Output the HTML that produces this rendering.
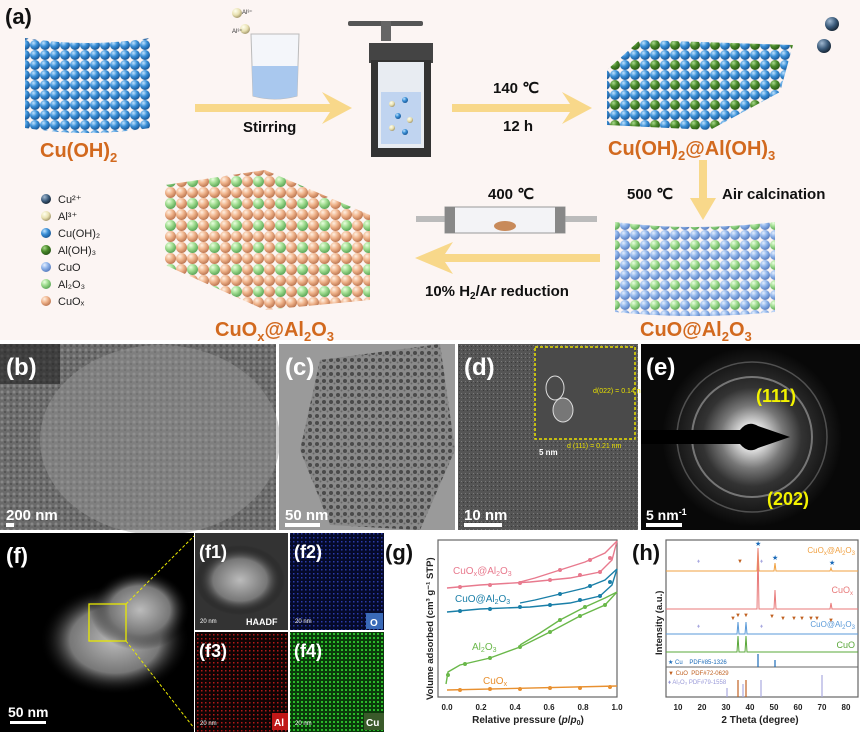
<!DOCTYPE html>
<html><head><meta charset="utf-8"><style>
body{margin:0;background:#fff}
svg{display:block;font-family:"Liberation Sans",sans-serif}
</style></head><body>
<svg width="860" height="732" viewBox="0 0 860 732" xmlns="http://www.w3.org/2000/svg">
<defs>
<radialGradient id="gB" cx="35%" cy="30%" r="70%"><stop offset="0" stop-color="#bfe3ff"/><stop offset=".5" stop-color="#3a8fd6"/><stop offset="1" stop-color="#1a5a9a"/></radialGradient>
<radialGradient id="gG" cx="35%" cy="30%" r="70%"><stop offset="0" stop-color="#a9d98a"/><stop offset=".5" stop-color="#4a8a2a"/><stop offset="1" stop-color="#2a5a18"/></radialGradient>
<radialGradient id="gLB" cx="35%" cy="30%" r="70%"><stop offset="0" stop-color="#e4efff"/><stop offset=".5" stop-color="#8fb4ea"/><stop offset="1" stop-color="#5a7fc0"/></radialGradient>
<radialGradient id="gLG" cx="35%" cy="30%" r="70%"><stop offset="0" stop-color="#eaffdf"/><stop offset=".5" stop-color="#9fdc8f"/><stop offset="1" stop-color="#5fa85a"/></radialGradient>
<radialGradient id="gO" cx="35%" cy="30%" r="70%"><stop offset="0" stop-color="#fff0e2"/><stop offset=".5" stop-color="#f0b48c"/><stop offset="1" stop-color="#c07a54"/></radialGradient>
<radialGradient id="gY" cx="35%" cy="30%" r="70%"><stop offset="0" stop-color="#fffff0"/><stop offset=".6" stop-color="#e8e0b0"/><stop offset="1" stop-color="#a89c70"/></radialGradient>
<radialGradient id="gD" cx="35%" cy="30%" r="70%"><stop offset="0" stop-color="#a0b8d0"/><stop offset=".6" stop-color="#3a5a7a"/><stop offset="1" stop-color="#1a2a3a"/></radialGradient>
<pattern id="pB" width="10" height="10" patternUnits="userSpaceOnUse"><circle cx="5" cy="5" r="5" fill="url(#gB)"/></pattern>
<pattern id="pBG" width="20" height="20" patternUnits="userSpaceOnUse"><circle cx="5" cy="5" r="5" fill="url(#gB)"/><circle cx="15" cy="5" r="5" fill="url(#gG)"/><circle cx="5" cy="15" r="5" fill="url(#gB)"/><circle cx="15" cy="15" r="5" fill="url(#gB)"/></pattern>
<pattern id="pLBG" width="20" height="20" patternUnits="userSpaceOnUse"><circle cx="5" cy="5" r="5" fill="url(#gLB)"/><circle cx="15" cy="5" r="5" fill="url(#gLG)"/><circle cx="5" cy="15" r="5" fill="url(#gLB)"/><circle cx="15" cy="15" r="5" fill="url(#gLB)"/></pattern>
<pattern id="pOG" width="22" height="22" patternUnits="userSpaceOnUse"><circle cx="5.5" cy="5.5" r="5.5" fill="url(#gO)"/><circle cx="16.5" cy="5.5" r="5.5" fill="url(#gLG)"/><circle cx="5.5" cy="16.5" r="5.5" fill="url(#gO)"/><circle cx="16.5" cy="16.5" r="5.5" fill="url(#gO)"/></pattern>
<pattern id="noise1" width="6" height="6" patternUnits="userSpaceOnUse"><rect width="6" height="6" fill="#6a6a6a"/><circle cx="2" cy="2" r="1.5" fill="#888"/><circle cx="5" cy="4" r="1" fill="#505050"/></pattern>
<pattern id="noise2" width="7" height="7" patternUnits="userSpaceOnUse"><rect width="7" height="7" fill="#8a8a8a"/><circle cx="2" cy="3" r="2" fill="#4a4a4a"/><circle cx="5.5" cy="5.5" r="1" fill="#666"/></pattern>
<pattern id="noise3" width="4" height="4" patternUnits="userSpaceOnUse"><rect width="4" height="4" fill="#555"/><rect x="1" y="1" width="1" height="1" fill="#7a7a7a"/><rect x="3" y="2" width="1" height="1" fill="#3a3a3a"/></pattern>
<pattern id="nBlue" width="4" height="4" patternUnits="userSpaceOnUse"><rect width="4" height="4" fill="#050a2a"/><rect x="1" y="1" width="1.5" height="1.5" fill="#2a3aa8"/></pattern>
<pattern id="nRed" width="4" height="4" patternUnits="userSpaceOnUse"><rect width="4" height="4" fill="#100404"/><rect x="1" y="2" width="1.5" height="1.5" fill="#b01818"/></pattern>
<pattern id="nGreen" width="4" height="4" patternUnits="userSpaceOnUse"><rect width="4" height="4" fill="#0a3a0a"/><rect x="1" y="1" width="2" height="2" fill="#2ab82a"/></pattern>
<radialGradient id="blob" cx="50%" cy="50%" r="50%"><stop offset="0" stop-color="#bbb"/><stop offset=".6" stop-color="#777"/><stop offset="1" stop-color="#000" stop-opacity="0"/></radialGradient>
<radialGradient id="saed" cx="50%" cy="50%" r="50%"><stop offset="0" stop-color="#fff"/><stop offset=".15" stop-color="#ddd"/><stop offset=".35" stop-color="#777"/><stop offset=".55" stop-color="#333"/><stop offset="1" stop-color="#080808"/></radialGradient>
</defs>

<!-- panel a background -->
<rect x="0" y="0" width="860" height="340" fill="#fcf5f3"/>
<text x="5" y="24" font-size="22" font-weight="bold" fill="#111">(a)</text>

<!-- Cu(OH)2 slab -->
<path d="M25,38 Q88,48 150,38 L150,128 Q88,138 25,128 Z" fill="url(#pB)"/>
<text x="40" y="157" font-size="20" font-weight="bold" fill="#d2691e">Cu(OH)<tspan font-size="13" dy="5">2</tspan></text>

<!-- stirring arrow -->
<path d="M195,104 L330,104 L322,92 L352,108 L322,124 L330,112 L195,112 Z" fill="#f8d88a"/>
<text x="243" y="132" font-size="15" font-weight="bold" fill="#111">Stirring</text>
<!-- beaker -->
<path d="M251,34 L299,34 L297,96 Q274,102 253,96 Z" fill="#f4f6fa" stroke="#bbb"/>
<path d="M252,66 L298,66 L297,96 Q274,102 253,96 Z" fill="#a9c8ee"/>
<circle cx="237" cy="13" r="5" fill="url(#gY)"/><circle cx="245" cy="29" r="5" fill="url(#gY)"/>
<text x="242" y="14" font-size="6" fill="#333">Al³⁺</text><text x="232" y="33" font-size="6" fill="#333">Al³⁺</text>
<!-- autoclave -->
<rect x="348" y="21" width="75" height="5" rx="2" fill="#555"/>
<rect x="381" y="21" width="10" height="20" fill="#666"/>
<rect x="369" y="43" width="64" height="20" fill="#444"/>
<rect x="371" y="60" width="60" height="97" fill="#333"/>
<rect x="378" y="62" width="46" height="86" fill="#e8ecf2"/>
<rect x="381" y="92" width="40" height="52" fill="#c0d4f0"/>
<circle cx="392" cy="104" r="3" fill="url(#gY)"/><circle cx="405" cy="100" r="3" fill="url(#gB)"/><circle cx="398" cy="116" r="3" fill="url(#gB)"/><circle cx="410" cy="120" r="3" fill="url(#gY)"/><circle cx="392" cy="128" r="3" fill="url(#gY)"/><circle cx="405" cy="132" r="3" fill="url(#gB)"/>
<!-- 140 arrow -->
<path d="M452,104 L570,104 L562,92 L592,108 L562,124 L570,112 L452,112 Z" fill="#f8d88a"/>
<text x="493" y="93" font-size="15" font-weight="bold" fill="#111">140 ℃</text>
<text x="503" y="131" font-size="15" font-weight="bold" fill="#111">12 h</text>
<!-- Cu(OH)2@Al(OH)3 slab -->
<path d="M640,40 L793,45 L780,92 L710,130 L607,125 L607,70 Z" fill="url(#pBG)"/>
<circle cx="832" cy="24" r="7" fill="url(#gD)"/><circle cx="824" cy="46" r="7" fill="url(#gD)"/>
<text x="608" y="155" font-size="20" font-weight="bold" fill="#d2691e">Cu(OH)<tspan font-size="13" dy="5">2</tspan><tspan dy="-5">@Al(OH)</tspan><tspan font-size="13" dy="5">3</tspan></text>
<!-- down arrow -->
<path d="M699,160 L707,160 L707,198 L716,198 L703,220 L690,198 L699,198 Z" fill="#f8d88a"/>
<text x="627" y="199" font-size="15" font-weight="bold" fill="#111">500 ℃</text>
<text x="722" y="199" font-size="15" font-weight="bold" fill="#111">Air calcination</text>
<!-- CuO@Al2O3 slab -->
<path d="M615,222 Q695,232 775,222 L775,312 Q695,320 615,312 Z" fill="url(#pLBG)"/>
<text x="640" y="336" font-size="20" font-weight="bold" fill="#d2691e">CuO@Al<tspan font-size="13" dy="5">2</tspan><tspan dy="-5">O</tspan><tspan font-size="13" dy="5">3</tspan></text>
<!-- tube -->
<rect x="416" y="216" width="181" height="6" fill="#bbb"/>
<rect x="445" y="207" width="120" height="26" fill="#f3f3f6" stroke="#999"/>
<rect x="445" y="207" width="10" height="26" fill="#888"/><rect x="555" y="207" width="10" height="26" fill="#888"/>
<ellipse cx="505" cy="226" rx="11" ry="5" fill="#c88a5a"/>
<text x="488" y="199" font-size="15" font-weight="bold" fill="#111">400 ℃</text>
<!-- left arrow -->
<path d="M600,254 L445,254 L453,242 L415,258 L453,274 L445,262 L600,262 Z" fill="#f8d88a"/>
<text x="425" y="296" font-size="15" font-weight="bold" fill="#111">10% H<tspan font-size="10" dy="3">2</tspan><tspan dy="-3">/Ar reduction</tspan></text>
<!-- CuOx@Al2O3 slab -->
<path d="M165,185 L265,170 L370,215 L370,300 L265,310 L165,265 Z" fill="url(#pOG)"/>
<text x="215" y="336" font-size="20" font-weight="bold" fill="#d2691e">CuO<tspan font-size="13" dy="5">x</tspan><tspan dy="-5">@Al</tspan><tspan font-size="13" dy="5">2</tspan><tspan dy="-5">O</tspan><tspan font-size="13" dy="5">3</tspan></text>
<!-- legend -->
<g font-size="11" fill="#222">
<circle cx="46" cy="199" r="5" fill="url(#gD)"/><text x="58" y="203">Cu²⁺</text>
<circle cx="46" cy="216" r="5" fill="url(#gY)"/><text x="58" y="220">Al³⁺</text>
<circle cx="46" cy="233" r="5" fill="url(#gB)"/><text x="58" y="237">Cu(OH)₂</text>
<circle cx="46" cy="250" r="5" fill="url(#gG)"/><text x="58" y="254">Al(OH)₃</text>
<circle cx="46" cy="267" r="5" fill="url(#gLB)"/><text x="58" y="271">CuO</text>
<circle cx="46" cy="284" r="5" fill="url(#gLG)"/><text x="58" y="288">Al₂O₃</text>
<circle cx="46" cy="301" r="5" fill="url(#gO)"/><text x="58" y="305">CuOₓ</text>
</g>

<!-- row 2 -->
<rect x="0" y="344" width="276" height="186" fill="url(#noise1)"/>
<ellipse cx="160" cy="440" rx="120" ry="95" fill="#9a9a9a" opacity=".45"/>
<rect x="0" y="344" width="60" height="40" fill="#222" opacity=".6"/>
<text x="6" y="375" font-size="24" font-weight="bold" fill="#fff">(b)</text>
<text x="6" y="520" font-size="15" font-weight="bold" fill="#fff">200 nm</text>
<rect x="6" y="523" width="8" height="4" fill="#fff"/>

<rect x="279" y="344" width="176" height="186" fill="#9a9a9a"/>
<path d="M320,360 L440,344 L455,450 L420,530 L330,525 L300,450 Z" fill="url(#noise2)"/>
<text x="285" y="375" font-size="24" font-weight="bold" fill="#fff">(c)</text>
<text x="285" y="520" font-size="15" font-weight="bold" fill="#fff">50 nm</text>
<rect x="285" y="523" width="35" height="4" fill="#fff"/>

<rect x="458" y="344" width="180" height="186" fill="url(#noise3)"/>
<rect x="535" y="347" width="100" height="92" fill="#4a4a4a" stroke="#e8e000" stroke-width="1.5" stroke-dasharray="3,2"/>
<ellipse cx="555" cy="388" rx="9" ry="12" fill="none" stroke="#ddd"/>
<ellipse cx="563" cy="410" rx="10" ry="12" fill="#777" stroke="#ddd"/>
<text x="593" y="393" font-size="7" fill="#e8e000">d(022) = 0.14 nm</text>
<text x="567" y="448" font-size="7" fill="#e8e000">d (111) = 0.21 nm</text>
<text x="539" y="455" font-size="8" font-weight="bold" fill="#fff">5 nm</text>
<text x="464" y="375" font-size="24" font-weight="bold" fill="#fff">(d)</text>
<text x="464" y="520" font-size="15" font-weight="bold" fill="#fff">10 nm</text>
<rect x="464" y="523" width="38" height="4" fill="#fff"/>

<rect x="641" y="344" width="219" height="186" fill="#080808"/>
<circle cx="752" cy="437" r="90" fill="url(#saed)"/>
<circle cx="752" cy="437" r="60" fill="none" stroke="#aaa" stroke-width="2" opacity=".6"/>
<circle cx="752" cy="437" r="75" fill="none" stroke="#888" stroke-width="1.5" opacity=".5"/>
<path d="M641,430 L740,430 Q748,420 758,426 L790,437 L758,448 Q748,454 740,444 L641,444 Z" fill="#000"/>
<text x="646" y="375" font-size="24" font-weight="bold" fill="#fff">(e)</text>
<text x="756" y="402" font-size="18" font-weight="bold" fill="#f2f200">(111)</text>
<text x="767" y="505" font-size="18" font-weight="bold" fill="#f2f200">(202)</text>
<text x="646" y="520" font-size="14" font-weight="bold" fill="#fff">5 nm<tspan font-size="9" dy="-5">-1</tspan></text>
<rect x="646" y="523" width="36" height="4" fill="#fff"/>

<!-- row 3 -->
<rect x="0" y="533" width="194" height="199" fill="#000"/>
<ellipse cx="115" cy="640" rx="75" ry="55" fill="url(#blob)"/>
<ellipse cx="140" cy="610" rx="50" ry="40" fill="url(#blob)"/>
<rect x="89" y="604" width="37" height="37" fill="none" stroke="#e8e800" stroke-width="1.3"/>
<line x1="126" y1="604" x2="194" y2="536" stroke="#e8e800" stroke-dasharray="3,2"/>
<line x1="126" y1="641" x2="194" y2="728" stroke="#e8e800" stroke-dasharray="3,2"/>
<text x="6" y="563" font-size="22" font-weight="bold" fill="#fff">(f)</text>
<text x="8" y="717" font-size="14" font-weight="bold" fill="#fff">50 nm</text>
<rect x="10" y="721" width="36" height="3" fill="#fff"/>

<rect x="195" y="533" width="93" height="97" fill="#333"/>
<ellipse cx="240" cy="580" rx="45" ry="35" fill="url(#blob)"/>
<text x="199" y="558" font-size="18" font-weight="bold" fill="#fff">(f1)</text>
<text x="200" y="623" font-size="6" fill="#fff">20 nm</text>
<text x="246" y="625" font-size="9" font-weight="bold" fill="#fff">HAADF</text>
<rect x="290" y="533" width="94" height="97" fill="url(#nBlue)"/>
<text x="294" y="558" font-size="18" font-weight="bold" fill="#fff">(f2)</text>
<text x="295" y="623" font-size="6" fill="#fff">20 nm</text>
<rect x="366" y="613" width="17" height="16" fill="#3a6ab8"/><text x="370" y="626" font-size="10" font-weight="bold" fill="#fff">O</text>
<rect x="195" y="632" width="93" height="100" fill="url(#nRed)"/>
<text x="199" y="657" font-size="18" font-weight="bold" fill="#fff">(f3)</text>
<text x="200" y="725" font-size="6" fill="#fff">20 nm</text>
<rect x="272" y="713" width="16" height="17" fill="#c01818"/><text x="274" y="726" font-size="10" font-weight="bold" fill="#fff">Al</text>
<rect x="290" y="632" width="94" height="100" fill="url(#nGreen)"/>
<text x="294" y="657" font-size="18" font-weight="bold" fill="#fff">(f4)</text>
<text x="295" y="725" font-size="6" fill="#fff">20 nm</text>
<rect x="364" y="713" width="20" height="17" fill="#3a5a2a"/><text x="366" y="726" font-size="10" font-weight="bold" fill="#fff">Cu</text>

<!-- g -->
<rect x="384" y="533" width="248" height="199" fill="#fff"/>
<text x="385" y="560" font-size="22" font-weight="bold" fill="#111">(g)</text>
<rect x="438" y="540" width="179" height="157" fill="none" stroke="#666" stroke-width="1.2"/>
<text transform="translate(433,700) rotate(-90)" font-size="9.5" font-weight="bold" fill="#222">Volume adsorbed (cm³ g⁻¹ STP)</text>
<g font-size="8" font-weight="bold" fill="#222" text-anchor="middle">
<text x="447" y="710">0.0</text><text x="481" y="710">0.2</text><text x="515" y="710">0.4</text><text x="549" y="710">0.6</text><text x="583" y="710">0.8</text><text x="617" y="710">1.0</text>
</g>
<text x="528" y="723" font-size="10" font-weight="bold" fill="#222" text-anchor="middle">Relative pressure (<tspan font-style="italic">p</tspan>/<tspan font-style="italic">p</tspan><tspan font-size="7" dy="2">0</tspan><tspan dy="-2">)</tspan></text>
<g fill="none" stroke-width="1.4">
<path d="M447,588 L480,585 L530,582 L570,578 L600,572 L612,560 L617,541" stroke="#e87a8e"/>
<path d="M617,541 L605,553 L585,562 L560,570 L535,578 L520,582" stroke="#e87a8e"/>
<path d="M447,612 L480,609 L530,607 L570,603 L600,596 L612,585 L617,569" stroke="#1a7fa8"/>
<path d="M617,569 L605,580 L585,588 L560,594 L535,600 L520,603" stroke="#1a7fa8"/>
<path d="M446,684 L448,672 L460,665 L490,658 L520,647 L550,632 L580,616 L605,605 L617,592" stroke="#6ab84a"/>
<path d="M617,592 L605,598 L585,607 L560,620 L540,633 L520,645" stroke="#6ab84a"/>
<path d="M447,690 L617,686" stroke="#e89030"/>
</g>
<g fill="#e87a8e"><circle cx="460" cy="587" r="2"/><circle cx="490" cy="585" r="2"/><circle cx="520" cy="583" r="2"/><circle cx="550" cy="580" r="2"/><circle cx="580" cy="575" r="2"/><circle cx="600" cy="572" r="2"/><circle cx="610" cy="558" r="2"/><circle cx="590" cy="560" r="2"/><circle cx="560" cy="570" r="2"/></g>
<g fill="#1a7fa8"><circle cx="460" cy="611" r="2"/><circle cx="490" cy="609" r="2"/><circle cx="520" cy="607" r="2"/><circle cx="550" cy="605" r="2"/><circle cx="580" cy="600" r="2"/><circle cx="600" cy="596" r="2"/><circle cx="610" cy="582" r="2"/><circle cx="590" cy="586" r="2"/><circle cx="560" cy="594" r="2"/></g>
<g fill="#6ab84a"><circle cx="448" cy="675" r="2"/><circle cx="465" cy="664" r="2"/><circle cx="490" cy="658" r="2"/><circle cx="520" cy="647" r="2"/><circle cx="550" cy="632" r="2"/><circle cx="580" cy="616" r="2"/><circle cx="605" cy="605" r="2"/><circle cx="585" cy="607" r="2"/><circle cx="560" cy="620" r="2"/></g>
<g fill="#e89030"><circle cx="460" cy="690" r="2"/><circle cx="490" cy="689" r="2"/><circle cx="520" cy="689" r="2"/><circle cx="550" cy="688" r="2"/><circle cx="580" cy="688" r="2"/><circle cx="610" cy="687" r="2"/></g>
<g font-size="10">
<text x="453" y="574" fill="#e87a8e">CuO<tspan font-size="7" dy="2">x</tspan><tspan dy="-2">@Al</tspan><tspan font-size="7" dy="2">2</tspan><tspan dy="-2">O</tspan><tspan font-size="7" dy="2">3</tspan></text>
<text x="455" y="602" fill="#1a7fa8">CuO@Al<tspan font-size="7" dy="2">2</tspan><tspan dy="-2">O</tspan><tspan font-size="7" dy="2">3</tspan></text>
<text x="472" y="650" fill="#6ab84a">Al<tspan font-size="7" dy="2">2</tspan><tspan dy="-2">O</tspan><tspan font-size="7" dy="2">3</tspan></text>
<text x="483" y="684" fill="#e89030">CuO<tspan font-size="7" dy="2">x</tspan></text>
</g>

<!-- h -->
<text x="632" y="560" font-size="22" font-weight="bold" fill="#111">(h)</text>
<rect x="666" y="540" width="192" height="157" fill="none" stroke="#666" stroke-width="1.2"/>
<line x1="666" y1="667" x2="858" y2="667" stroke="#666"/>
<text transform="translate(662,655) rotate(-90)" font-size="9.5" font-weight="bold" fill="#222">Intensity (a.u.)</text>
<g font-size="8" font-weight="bold" fill="#222" text-anchor="middle">
<text x="678" y="710">10</text><text x="702" y="710">20</text><text x="726" y="710">30</text><text x="750" y="710">40</text><text x="774" y="710">50</text><text x="798" y="710">60</text><text x="822" y="710">70</text><text x="846" y="710">80</text>
</g>
<text x="760" y="723" font-size="10" font-weight="bold" fill="#222" text-anchor="middle">2 Theta (degree)</text>
<g fill="none" stroke-width="1">
<path d="M666,571 L757,571 L758,549 L759,571 L774,571 L775,563 L776,571 L830,571 L831,568 L832,571 L858,571" stroke="#f0a040"/>
<path d="M666,609 L757,609 L758,548 L759,609 L774,609 L775,590 L776,609 L830,609 L831,603 L832,609 L858,609" stroke="#e87a7a"/>
<path d="M666,634 L737,634 L738,622 L739,634 L745,634 L746,622 L747,634 L858,634" stroke="#5a9ad8"/>
<path d="M666,652 L737,652 L738,636 L739,652 L745,652 L746,636 L747,652 L858,652" stroke="#5aa83a"/>
</g>
<g stroke-width="1.2"><line x1="758" y1="654" x2="758" y2="667" stroke="#1a6ab8"/><line x1="775" y1="660" x2="775" y2="667" stroke="#1a6ab8"/>
<line x1="738" y1="680" x2="738" y2="697" stroke="#c06020"/><line x1="746" y1="680" x2="746" y2="697" stroke="#c06020"/>
<line x1="743" y1="684" x2="743" y2="697" stroke="#a9a9e0"/><line x1="727" y1="688" x2="727" y2="697" stroke="#a9a9e0"/><line x1="761" y1="680" x2="761" y2="697" stroke="#a9a9e0"/><line x1="822" y1="675" x2="822" y2="697" stroke="#a9a9e0"/></g>
<g font-size="8" fill="#f0a040" text-anchor="end"><text x="855" y="553">CuO<tspan font-size="6" dy="2">x</tspan><tspan dy="-2">@Al</tspan><tspan font-size="6" dy="2">2</tspan><tspan dy="-2">O</tspan><tspan font-size="6" dy="2">3</tspan></text></g>
<text x="853" y="593" font-size="9" fill="#e87a7a" text-anchor="end">CuO<tspan font-size="6" dy="2">x</tspan></text>
<text x="855" y="627" font-size="8" fill="#5a9ad8" text-anchor="end">CuO@Al<tspan font-size="6" dy="2">2</tspan><tspan dy="-2">O</tspan><tspan font-size="6" dy="2">3</tspan></text>
<text x="855" y="648" font-size="9" fill="#5aa83a" text-anchor="end">CuO</text>
<g font-size="6"><text x="668" y="664" fill="#1a6ab8">★ Cu&#160;&#160;&#160;&#160;PDF#85-1326</text>
<text x="668" y="675" fill="#c06020">▼ CuO&#160;&#160;PDF#72-0629</text>
<text x="668" y="684" fill="#9a9ad8">♦ Al₂O₃ PDF#79-1558</text></g>
<g font-size="7" fill="#1a6ab8"><text x="755" y="546">★</text><text x="772" y="560">★</text><text x="829" y="565">★</text></g>
<g font-size="6" fill="#c06020"><text x="737" y="563">▼</text><text x="730" y="620">▼</text><text x="735" y="617">▼</text><text x="743" y="617">▼</text><text x="769" y="618">▼</text><text x="780" y="620">▼</text><text x="791" y="620">▼</text><text x="799" y="620">▼</text><text x="808" y="620">▼</text><text x="814" y="620">▼</text><text x="828" y="622">▼</text></g>
<g font-size="6" fill="#a9a9e0"><text x="697" y="563">♦</text><text x="760" y="563">♦</text><text x="697" y="628">♦</text><text x="760" y="628">♦</text></g>
</svg>
</body></html>
